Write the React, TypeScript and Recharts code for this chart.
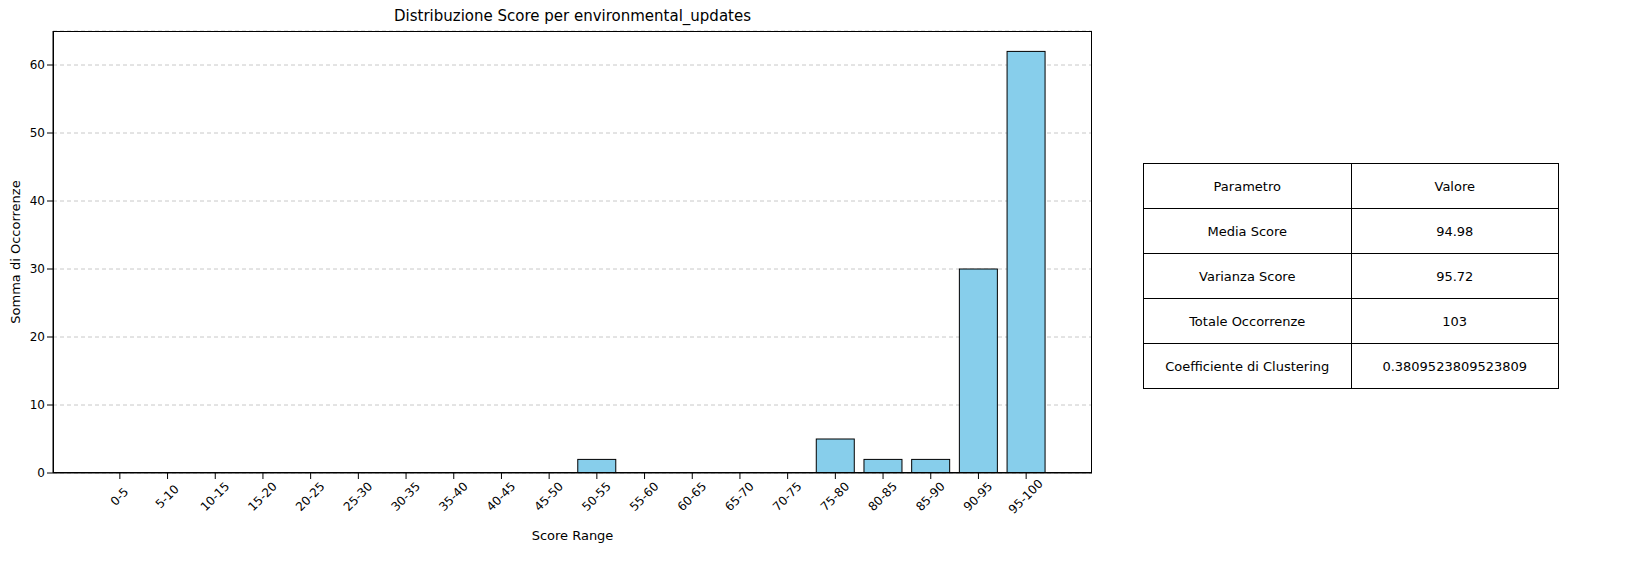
import React from "react";
import { BarChart, Bar, XAxis, YAxis, CartesianGrid } from "recharts";

const categories = [
  "0-5", "5-10", "10-15", "15-20", "20-25", "25-30", "30-35", "35-40", "40-45", "45-50",
  "50-55", "55-60", "60-65", "65-70", "70-75", "75-80", "80-85", "85-90", "90-95", "95-100",
];
const counts = [0, 0, 0, 0, 0, 0, 0, 0, 0, 0, 2, 0, 0, 0, 0, 5, 2, 2, 30, 62];
const yTicks = [0, 10, 20, 30, 40, 50, 60];
const tableRows = [
  ["Parametro", "Valore"],
  ["Media Score", "94.98"],
  ["Varianza Score", "95.72"],
  ["Totale Occorrenze", "103"],
  ["Coefficiente di Clustering", "0.3809523809523809"],
];

const data = categories.map((c, i) => ({ range: c, value: counts[i] }));
const font = "'DejaVu Sans', sans-serif";

const BarShape = (props: any) => {
  const { x, y, width, height } = props;
  return (
    <rect x={x} y={y} width={width} height={Math.max(height || 0, 0)}
      fill="#87CEEB" stroke="#000" strokeWidth={1} />
  );
};

const XTick = (props: any) => {
  const { x, y, payload } = props;
  const cy = y + 16;
  return (
    <text x={x} y={cy} textAnchor="middle" dominantBaseline="middle" fontSize={12}
      fontFamily={font} fill="#000" transform={`rotate(-45 ${x} ${cy})`}>
      {payload.value}
    </text>
  );
};

export default function App() {
  return (
    <div style={{ position: "fixed", left: 0, top: 0, width: 1640, height: 578, background: "#fff", fontFamily: font }}>
      <BarChart width={1100} height={578} data={data} barCategoryGap="10%"
        margin={{ top: 31, right: 8, left: 0, bottom: 0 }}>
        <CartesianGrid vertical={false} strokeDasharray="4 3" stroke="#c8c8c8" />
        <XAxis dataKey="range" height={105} interval={0} tick={<XTick />}
          tickLine={{ stroke: "#000" }} axisLine={{ stroke: "#000" }}
          padding={{ left: 43, right: 42 }} />
        <YAxis width={53} domain={[0, 65]} ticks={yTicks} allowDataOverflow
          tick={{ fill: "#000", fontSize: 12, fontFamily: font }}
          tickLine={{ stroke: "#000" }} axisLine={{ stroke: "#000" }} />
        <Bar dataKey="value" shape={<BarShape />} isAnimationActive={false} />
      </BarChart>
      <div style={{ position: "absolute", left: 53, top: 31, width: 1039, height: 442, border: "1px solid #000", boxSizing: "border-box", pointerEvents: "none" }} />
      <div style={{ position: "absolute", left: 0, width: 1145, top: 7, textAlign: "center", fontSize: 15 }}>
        Distribuzione Score per environmental_updates
      </div>
      <div style={{ position: "absolute", left: 53, width: 1039, top: 528, textAlign: "center", fontSize: 13 }}>
        Score Range
      </div>
      <div style={{ position: "absolute", left: 15, top: 252, fontSize: 13, transform: "translate(-50%, -50%) rotate(-90deg)", whiteSpace: "nowrap" }}>
        Somma di Occorrenze
      </div>
      <table style={{ position: "absolute", left: 1143, top: 163, width: 416, height: 222, borderCollapse: "collapse", fontSize: 13 }}>
        <tbody>
          {tableRows.map((r, i) => (
            <tr key={i}>
              {r.map((c, j) => (
                <td key={j} style={{ border: "1px solid #000", textAlign: "center", width: "50%", height: 44, padding: 0 }}>{c}</td>
              ))}
            </tr>
          ))}
        </tbody>
      </table>
    </div>
  );
}
